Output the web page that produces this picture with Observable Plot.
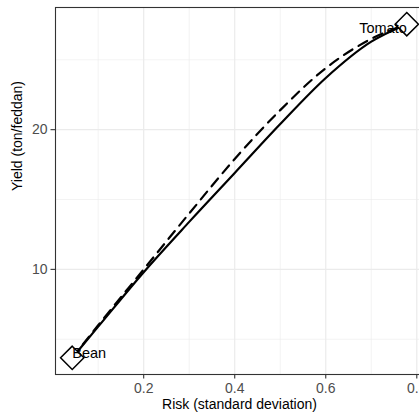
<!DOCTYPE html>
<html>
<head>
<meta charset="utf-8">
<script src="https://cdn.jsdelivr.net/npm/d3@7"></script>
<script src="https://cdn.jsdelivr.net/npm/@observablehq/plot@0.6"></script>
<style>
  html, body { margin: 0; padding: 0; background: #fff; overflow: hidden; }
  #chart { width: 419px; height: 420px; overflow: hidden; }
  #chart svg { max-width: none !important; width: 428px !important; height: 420px !important; }
</style>
</head>
<body>
<div id="chart"></div>
<script>
// ---- data ----
const riskX      = [0.043, 0.1, 0.2, 0.3, 0.4, 0.5, 0.6, 0.7, 0.778];
const yieldSolid = [3.67, 5.9, 9.8, 13.4, 16.9, 20.4, 23.7, 26.3, 27.55];
const yieldDash  = [3.67, 6.0, 10.0, 14.0, 17.9, 21.4, 24.4, 26.5, 27.55];

const cropNames  = ["Bean", "Tomato"];
const cropRisk   = [0.043, 0.778];
const cropYield  = [3.67, 27.55];

const xTicks      = [0.2, 0.4, 0.6, 0.8];
const xMinorTicks = [0.1, 0.3, 0.5, 0.7];
const yTicks      = [10, 20];
const yMinorTicks = [5, 15, 25];

const xTitle = "Risk (standard deviation)";
const yTitle = "Yield (ton/feddan)";

// ---- build tables ----
const solid = riskX.map((x, i) => ({x, y: yieldSolid[i]}));
const dashed = riskX.map((x, i) => ({x, y: yieldDash[i]}));
const crops = cropNames.map((name, i) => ({name, x: cropRisk[i], y: cropYield[i]}));

// ggplot-style 5% expansion
const allX = riskX.concat(cropRisk), allY = yieldSolid.concat(yieldDash, cropYield);
const [x0, x1] = d3.extent(allX), [y0, y1] = d3.extent(allY);
const ex = (x1 - x0) * 0.05, ey = (y1 - y0) * 0.05;

const font = "'Liberation Sans', Arial, Helvetica, sans-serif";

const chart = Plot.plot({
  width: 428,
  height: 420,
  marginLeft: 55,
  marginRight: 5,
  marginTop: 7,
  marginBottom: 46,
  style: {fontFamily: font, fontSize: "14px", background: "#fff", overflow: "visible"},
  x: {domain: [x0 - ex, x1 + ex]},
  y: {domain: [y0 - ey, y1 + ey]},
  marks: [
    Plot.gridX(xMinorTicks, {stroke: "#ebebeb", strokeOpacity: 1, strokeWidth: 0.6}),
    Plot.gridY(yMinorTicks, {stroke: "#ebebeb", strokeOpacity: 1, strokeWidth: 0.6}),
    Plot.gridX(xTicks, {stroke: "#ebebeb", strokeOpacity: 1, strokeWidth: 1.2}),
    Plot.gridY(yTicks, {stroke: "#ebebeb", strokeOpacity: 1, strokeWidth: 1.2}),
    Plot.axisX(xTicks, {label: null, tickSize: 4.5, tickPadding: 4.5, fontSize: 14, stroke: "#333", strokeWidth: 1.1, fill: "#4d4d4d"}),
    Plot.axisY(yTicks, {label: null, tickSize: 4.5, tickPadding: 3.5, fontSize: 14, stroke: "#333", strokeWidth: 1.1, fill: "#4d4d4d"}),
    Plot.line(dashed, {x: "x", y: "y", curve: "monotone-x", stroke: "#000", strokeWidth: 2.2, strokeDasharray: "10,7"}),
    Plot.line(solid, {x: "x", y: "y", curve: "monotone-x", stroke: "#000", strokeWidth: 2.2}),
    Plot.dot(crops, {x: "x", y: "y", symbol: "diamond2", r: 10.5, fill: "#fff", stroke: "#000", strokeWidth: 1.5}),
    Plot.text(crops.filter(d => d.name === "Bean"), {x: "x", y: "y", text: "name", textAnchor: "start", dy: -4, fontSize: 14.5, fill: "#000"}),
    Plot.text(crops.filter(d => d.name === "Tomato"), {x: "x", y: "y", text: "name", textAnchor: "end", dy: 4, fontSize: 14.5, fill: "#000"}),
    Plot.frame({stroke: "#333", strokeWidth: 1.1}),
    Plot.text([xTitle], {text: d => d, frameAnchor: "bottom", dy: 34, fontSize: 14, fill: "#000"}),
    Plot.text([yTitle], {text: d => d, frameAnchor: "left", dx: -37.5, rotate: -90, fontSize: 14, fill: "#000"})
  ]
});
document.getElementById("chart").appendChild(chart);
</script>
</body>
</html>
